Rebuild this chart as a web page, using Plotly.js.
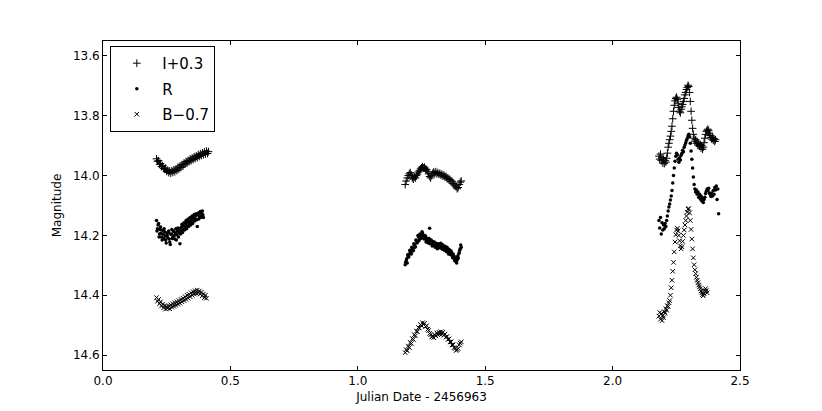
<!DOCTYPE html>
<html>
<head>
<meta charset="utf-8">
<script src="https://cdn.plot.ly/plotly-3.0.1.min.js"></script>
<style>html,body{margin:0;padding:0;background:#fff;}#chart{width:822px;height:411px;}</style>
</head>
<body>
<div id="chart"></div>
<script>
// Night 1 times
const t1 = [0.210,0.214,0.218,0.222,0.226,0.230,0.234,0.238,0.242,0.246,0.250,0.254,0.258,0.262,0.266,0.270,0.274,0.278,0.282,0.286,0.290,0.294,0.298,0.302,0.306,0.310,0.314,0.318,0.322,0.326,0.330,0.334,0.338,0.342,0.346,0.350,0.354,0.358,0.362,0.366,0.370,0.374,0.378,0.382,0.386,0.390,0.394,0.398,0.402,0.406,0.410,0.414];
const t1b = [0.212,0.216,0.220,0.224,0.228,0.232,0.236,0.240,0.244,0.248,0.252,0.256,0.260,0.264,0.268,0.272,0.276,0.280,0.284,0.288,0.292,0.296,0.300,0.304,0.308,0.312,0.316,0.320,0.324,0.328,0.332,0.336,0.340,0.344,0.348,0.352,0.356,0.360,0.364,0.368,0.372,0.376,0.380,0.384,0.388,0.392];
const i1 = [13.944,13.952,13.950,13.962,13.960,13.970,13.967,13.976,13.979,13.975,13.986,13.982,13.990,13.985,13.992,13.984,13.989,13.981,13.987,13.978,13.983,13.972,13.978,13.968,13.973,13.963,13.968,13.958,13.962,13.953,13.958,13.949,13.954,13.944,13.950,13.941,13.946,13.937,13.943,13.934,13.940,13.930,13.936,13.927,13.933,13.924,13.930,13.921,13.928,13.918,13.926,13.920];
const r1 = [14.150,14.178,14.160,14.195,14.172,14.205,14.183,14.210,14.188,14.215,14.192,14.208,14.185,14.222,14.196,14.180,14.205,14.188,14.212,14.178,14.198,14.175,14.190,14.228,14.185,14.163,14.180,14.158,14.172,14.150,14.168,14.145,14.160,14.140,14.155,14.135,14.150,14.130,14.146,14.128,14.170,14.125,14.138,14.120,14.135,14.118,14.140];
const r1b = [14.185,14.165,14.205,14.180,14.192,14.215,14.196,14.178,14.202,14.225,14.200,14.190,14.212,14.230,14.195,14.210,14.185,14.200,14.192,14.215,14.185,14.205,14.178,14.195,14.172,14.190,14.168,14.182,14.160,14.178,14.155,14.170,14.152,14.165,14.145,14.160,14.140,14.152,14.135,14.148,14.130,14.145,14.125,14.140,14.128,14.132];
const b1 = [14.408,14.420,14.414,14.428,14.422,14.436,14.430,14.442,14.435,14.446,14.438,14.444,14.436,14.445,14.432,14.440,14.428,14.437,14.425,14.434,14.422,14.430,14.418,14.427,14.414,14.422,14.410,14.418,14.405,14.414,14.400,14.410,14.397,14.405,14.392,14.400,14.388,14.396,14.385,14.394,14.383,14.392,14.386,14.396,14.390,14.402,14.396,14.408,14.400,14.410];

// Night 2 times
const t2 = [1.186,1.190,1.194,1.198,1.202,1.206,1.210,1.214,1.218,1.222,1.226,1.230,1.234,1.238,1.242,1.246,1.250,1.254,1.258,1.262,1.266,1.270,1.274,1.278,1.282,1.286,1.290,1.294,1.298,1.302,1.306,1.310,1.314,1.318,1.322,1.326,1.330,1.334,1.338,1.342,1.346,1.350,1.354,1.358,1.362,1.366,1.370,1.374,1.378,1.382,1.386,1.390,1.394,1.398,1.402,1.406];
const t2b = [1.188,1.192,1.196,1.200,1.204,1.208,1.212,1.216,1.220,1.224,1.228,1.232,1.236,1.240,1.244,1.248,1.252,1.256,1.260,1.264,1.268,1.272,1.276,1.280,1.284,1.288,1.292,1.296,1.300,1.304,1.308,1.312,1.316,1.320,1.324,1.328,1.332,1.336,1.340,1.344,1.348,1.352,1.356,1.360,1.364,1.368,1.372,1.376,1.380,1.384,1.388,1.392,1.396,1.400,1.404];
const i2 = [14.030,14.018,14.008,14.000,13.994,13.990,13.998,14.008,14.012,14.004,14.008,14.000,13.995,13.988,13.984,13.978,13.974,13.970,13.975,13.972,13.978,13.980,13.986,13.994,14.003,14.008,14.000,13.992,13.988,13.993,13.987,13.994,13.990,13.996,13.992,13.999,13.995,14.002,13.998,14.005,14.002,14.010,14.008,14.015,14.013,14.021,14.019,14.027,14.028,14.034,14.038,14.044,14.040,14.030,14.022,14.018];
const r2 = [14.298,14.285,14.292,14.270,14.262,14.255,14.262,14.245,14.250,14.232,14.238,14.218,14.222,14.205,14.212,14.198,14.205,14.192,14.200,14.210,14.204,14.218,14.210,14.220,14.176,14.218,14.228,14.220,14.232,14.226,14.238,14.230,14.242,14.228,14.236,14.226,14.240,14.232,14.244,14.236,14.248,14.240,14.252,14.246,14.258,14.252,14.266,14.262,14.276,14.272,14.288,14.282,14.276,14.258,14.245,14.240];
const r2b = [14.290,14.278,14.265,14.272,14.250,14.258,14.240,14.252,14.228,14.240,14.215,14.225,14.200,14.218,14.195,14.210,14.188,14.198,14.212,14.200,14.222,14.212,14.225,14.210,14.228,14.215,14.235,14.225,14.222,14.240,14.226,14.245,14.235,14.232,14.242,14.230,14.246,14.238,14.250,14.240,14.255,14.246,14.262,14.250,14.265,14.258,14.275,14.268,14.285,14.280,14.292,14.270,14.262,14.250,14.232];
const b2 = [14.592,14.582,14.586,14.570,14.575,14.558,14.562,14.545,14.548,14.532,14.536,14.520,14.522,14.508,14.510,14.498,14.502,14.492,14.498,14.494,14.505,14.502,14.514,14.518,14.528,14.532,14.540,14.536,14.542,14.533,14.536,14.526,14.532,14.524,14.530,14.522,14.530,14.524,14.534,14.530,14.540,14.538,14.548,14.546,14.556,14.556,14.566,14.566,14.575,14.578,14.585,14.582,14.578,14.566,14.560,14.556];

// Night 3 times
const t3 = [2.182,2.185,2.188,2.191,2.194,2.197,2.200,2.203,2.206,2.209,2.212,2.215,2.218,2.221,2.224,2.227,2.230,2.233,2.236,2.239,2.242,2.245,2.248,2.251,2.254,2.257,2.260,2.263,2.266,2.269,2.272,2.275,2.278,2.281,2.284,2.287,2.290,2.293,2.296,2.299,2.302,2.305,2.308,2.311,2.314,2.317,2.320,2.323,2.326,2.329,2.332,2.335,2.338,2.341,2.344,2.347,2.350,2.353,2.356,2.359,2.362,2.365,2.368,2.371,2.374,2.377,2.380,2.383,2.386,2.389,2.392,2.395,2.398,2.401,2.404,2.407,2.410,2.413,2.416];
const i3 = [13.935,13.945,13.928,13.950,13.940,13.958,13.945,13.960,13.950,13.955,13.942,13.925,13.905,13.892,13.880,13.868,13.852,13.835,13.810,13.785,13.765,13.750,13.742,13.738,13.745,13.758,13.772,13.785,13.790,13.778,13.770,13.762,13.752,13.742,13.730,13.722,13.712,13.705,13.698,13.702,13.722,13.752,13.785,13.815,13.842,13.862,13.875,13.885,13.880,13.892,13.888,13.898,13.893,13.902,13.896,13.908,13.900,13.912,13.905,13.890,13.875,13.862,13.852,13.848,13.845,13.850,13.858,13.866,13.872,13.878,13.872,13.882,13.876,13.886,13.880];
const r3 = [14.150,14.175,14.140,14.195,14.158,14.182,14.165,14.178,14.160,14.170,14.150,14.135,14.118,14.105,14.095,14.082,14.068,14.050,14.025,14.000,13.975,13.952,13.935,13.925,13.930,13.945,13.955,13.940,13.948,13.932,13.925,13.915,13.920,13.905,13.898,13.890,13.882,13.876,13.868,13.862,13.870,13.892,13.918,13.945,13.975,14.005,14.030,14.045,14.055,14.048,14.062,14.055,14.072,14.062,14.078,14.068,14.085,14.075,14.090,14.080,14.072,14.060,14.052,14.045,14.050,14.042,14.058,14.062,14.070,14.058,14.068,14.050,14.062,14.040,14.048,14.035,14.080,14.045,14.128];
const b3 = [14.470,14.458,14.480,14.462,14.485,14.468,14.475,14.455,14.460,14.445,14.450,14.435,14.438,14.425,14.418,14.400,14.375,14.350,14.320,14.290,14.255,14.222,14.198,14.182,14.176,14.185,14.200,14.218,14.235,14.245,14.238,14.220,14.200,14.182,14.165,14.150,14.135,14.122,14.112,14.110,14.125,14.150,14.180,14.212,14.245,14.275,14.298,14.315,14.328,14.340,14.350,14.358,14.366,14.372,14.378,14.386,14.392,14.398,14.402,14.395,14.385,14.378,14.385,14.392];

const seriesNames = ['I+0.3', 'R', 'B\u22120.7'];
const xTicks = [0.0, 0.5, 1.0, 1.5, 2.0, 2.5];
const yTicks = [13.6, 13.8, 14.0, 14.2, 14.4, 14.6];

function pair(ts, ms) { return {x: ts.slice(0, ms.length), y: ms}; }
function join(parts) {
  return {x: [].concat(...parts.map(p => p.x)), y: [].concat(...parts.map(p => p.y))};
}

const iData = join([pair(t1, i1), pair(t2, i2), pair(t3, i3)]);
const rData = join([pair(t1, r1), pair(t1b, r1b), pair(t2, r2), pair(t2b, r2b), pair(t3, r3)]);
const bData = join([pair(t1, b1), pair(t2, b2), pair(t3, b3)]);

const font = {family: 'DejaVu Sans, sans-serif', size: 12, color: '#000'};

const traces = [
  {x: iData.x, y: iData.y, name: seriesNames[0], legendgroup: 'a', type: 'scatter', mode: 'markers',
   marker: {symbol: 'cross-thin', size: 5.5, color: '#000', line: {width: 1, color: '#000'}}},
  {x: rData.x, y: rData.y, name: seriesNames[1], legendgroup: 'b', type: 'scatter', mode: 'markers',
   marker: {symbol: 'circle', size: 3.5, color: '#000', line: {width: 0}}},
  {x: bData.x, y: bData.y, name: seriesNames[2], legendgroup: 'c', type: 'scatter', mode: 'markers',
   marker: {symbol: 'x-thin', size: 4.5, color: '#000', line: {width: 1, color: '#000'}}}
];

const axisCommon = {
  showline: true, linecolor: '#000', linewidth: 1, mirror: 'allticks',
  ticks: 'inside', ticklen: 4, tickcolor: '#000', tickwidth: 1,
  showgrid: false, zeroline: false, tickfont: font
};

const layout = {
  width: 822, height: 411,
  margin: {l: 103, r: 82, t: 41, b: 41, pad: 0},
  paper_bgcolor: '#fff', plot_bgcolor: '#fff',
  font: font,
  showlegend: true,
  legend: {
    x: 0.0115, y: 0.985, xanchor: 'left', yanchor: 'top',
    bgcolor: '#fff', bordercolor: '#000', borderwidth: 1,
    font: {family: 'DejaVu Sans, sans-serif', size: 15, color: '#000'},
    itemwidth: 41, tracegroupgap: 3, traceorder: 'grouped'
  },
  xaxis: Object.assign({}, axisCommon, {
    range: [0, 2.5], tickvals: xTicks, ticktext: xTicks.map(v => v.toFixed(1)),
    title: {text: 'Julian Date - 2456963', font: font, standoff: 5}
  }),
  yaxis: Object.assign({}, axisCommon, {
    range: [14.65, 13.55], tickvals: yTicks, ticktext: yTicks.map(v => v.toFixed(1)),
    title: {text: 'Magnitude', font: font, standoff: 8}
  })
};

Plotly.newPlot('chart', traces, layout, {displayModeBar: false, staticPlot: true});
</script>
</body>
</html>
